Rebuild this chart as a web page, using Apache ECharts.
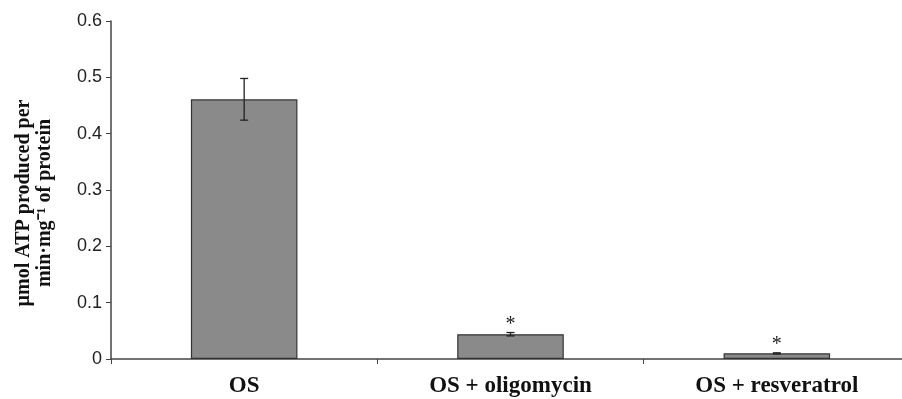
<!DOCTYPE html>
<html>
<head>
<meta charset="utf-8">
<script src="https://cdn.jsdelivr.net/npm/echarts@6/dist/echarts.min.js"></script>
<style>html,body{margin:0;padding:0;background:#fff;}#c{width:902px;height:399px;}</style>
</head>
<body>
<div id="c"></div>
<script>
const categories = ['OS', 'OS + oligomycin', 'OS + resveratrol'];
const values = [0.461, 0.044, 0.010];
const errors = [0.037, 0.003, 0.001];
const marks = ['', '*', '*'];
const yTicks = [0, 0.1, 0.2, 0.3, 0.4, 0.5, 0.6];

const chart = echarts.init(document.getElementById('c'));
const errData = categories.map((c, i) => [i, values[i] - errors[i], values[i] + errors[i], marks[i]]);

chart.setOption({
  animation: false,
  grid: { left: 111, right: -8, top: 21, bottom: 40, containLabel: false, outerBoundsMode: 'none' },
  xAxis: {
    type: 'category',
    data: categories,
    axisLine: { lineStyle: { color: '#444', width: 1.5 } },
    axisTick: { show: true, length: 5, lineStyle: { color: '#444' }, inside: false },
    axisLabel: { fontFamily: 'Liberation Serif', fontWeight: 'bold', fontSize: 23, color: '#111', margin: 16 }
  },
  yAxis: {
    type: 'value',
    min: yTicks[0], max: yTicks[yTicks.length - 1], interval: 0.1,
    splitLine: { show: false },
    axisLine: { show: true, lineStyle: { color: '#444', width: 1.5 } },
    axisTick: { show: true, length: 5, lineStyle: { color: '#444' } },
    axisLabel: { fontFamily: 'Liberation Sans', fontSize: 18, color: '#222', margin: 9,
      formatter: v => (Math.round(v * 10) / 10).toString() },
    name: 'µmol ATP produced per\nmin·mg⁻¹ of protein',
    nameLocation: 'middle',
    nameGap: 56,
    nameTextStyle: { fontFamily: 'Liberation Serif', fontWeight: 'bold', fontSize: 20, color: '#111', lineHeight: 21, padding: [0, 26, 0, 0] }
  },
  series: [
    {
      type: 'bar',
      data: values,
      barWidth: '40%',
      itemStyle: { color: '#8a8a8a', borderColor: '#333', borderWidth: 1.2 }
    },
    {
      type: 'custom',
      data: errData,
      renderItem: function (params, api) {
        const x = api.coord([api.value(0), 0])[0];
        const lo = api.coord([api.value(0), api.value(1)])[1];
        const hi = api.coord([api.value(0), api.value(2)])[1];
        const hw = 4;
        const mark = marks[params.dataIndex];
        const children = [
          { type: 'line', shape: { x1: x, y1: lo, x2: x, y2: hi }, style: { stroke: '#222', lineWidth: 1.3 } },
          { type: 'line', shape: { x1: x - hw, y1: lo, x2: x + hw, y2: lo }, style: { stroke: '#222', lineWidth: 1.3 } },
          { type: 'line', shape: { x1: x - hw, y1: hi, x2: x + hw, y2: hi }, style: { stroke: '#222', lineWidth: 1.3 } }
        ];
        if (mark) {
          children.push({ type: 'text', x: x, y: hi - 8, style: { text: mark, fontFamily: 'Liberation Serif', fontSize: 20, fill: '#222', align: 'center', verticalAlign: 'middle' } });
        }
        return { type: 'group', children: children };
      },
      z: 5
    }
  ]
});
</script>
</body>
</html>
